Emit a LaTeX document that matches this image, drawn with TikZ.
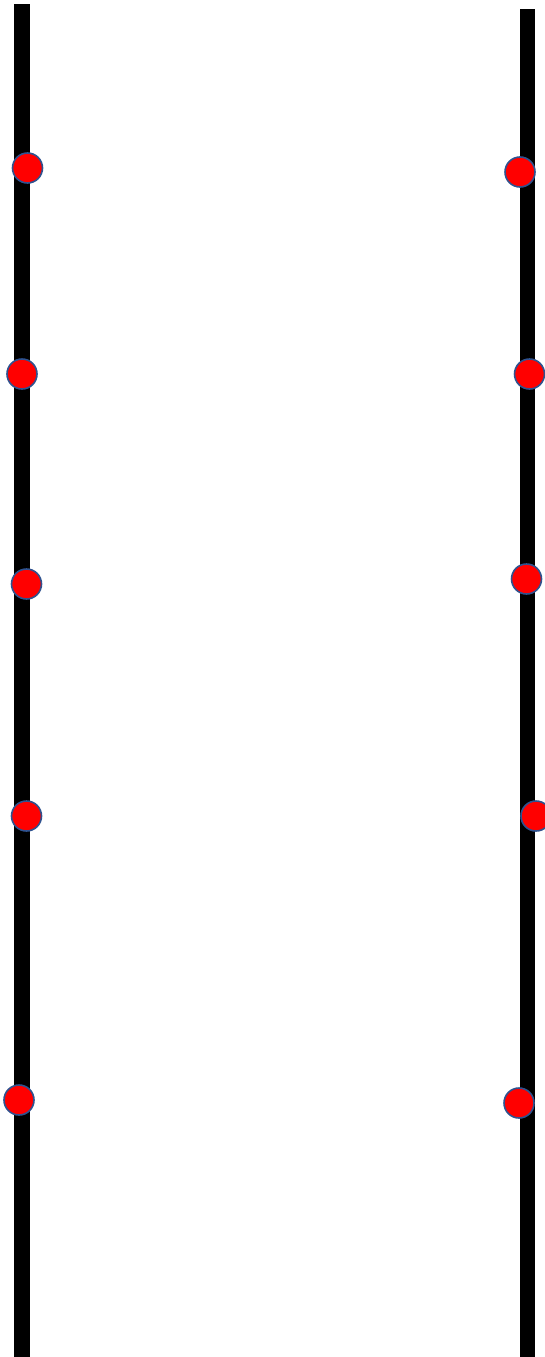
\documentclass[tikz,border=0pt]{standalone}
\usepackage{tikz}
\usetikzlibrary{positioning}

\definecolor{dotred}{RGB}{255,0,0}
\definecolor{dotblue}{RGB}{47,82,143}

\tikzset{
    rail/.style={fill=black, draw=none},
    bead/.style={circle, fill=dotred, draw=dotblue, line width=1.6pt, minimum size=30pt, inner sep=0pt},
}

\begin{document}
\begin{tikzpicture}[x=1pt, y=-1pt]
    \useasboundingbox (0, 0) rectangle (544, 1357);
    % the two rails
    \fill[rail] (14, 4) rectangle (30, 1357);
    \fill[rail] (520, 9) rectangle (535, 1357);
    % left beads
    \node[bead] (l1) at (27.5, 168) {};
    \node[bead] (l2) at (22, 374) {};
    \node[bead] (l3) at (26.5, 584) {};
    \node[bead] (l4) at (26.5, 816) {};
    \node[bead] (l5) at (19, 1100) {};
    % right beads
    \node[bead] (r1) at (520, 172) {};
    \node[bead] (r2) at (529.5, 374) {};
    \node[bead] (r3) at (526.5, 579) {};
    \node[bead] (r4) at (536, 816) {};
    \node[bead] (r5) at (519, 1103) {};
\end{tikzpicture}
\end{document}
